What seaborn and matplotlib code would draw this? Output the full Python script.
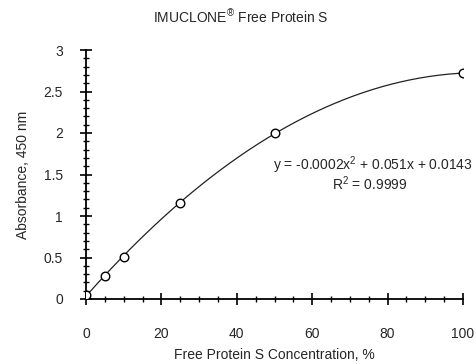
import numpy as np
import matplotlib
matplotlib.use("Agg")
import matplotlib.pyplot as plt
import seaborn as sns
from matplotlib.ticker import MultipleLocator

# standard curve readings
concentration = [0, 5, 10, 25, 50, 100]
absorbance = [0.05, 0.28, 0.51, 1.16, 2.0, 2.72]

equation = "y = -0.0002x$^2$ + 0.051x + 0.0143"
r_squared = "R$^2$ = 0.9999"

sns.set_style("ticks")
plt.rcParams["font.family"] = ["Liberation Sans", "DejaVu Sans"]
plt.rcParams["mathtext.fontset"] = "custom"
plt.rcParams["mathtext.rm"] = "Liberation Sans"

FS = 10

fig = plt.figure(figsize=(4.76, 3.64), dpi=100)
ax = fig.add_axes([86 / 476, 1 - 299 / 364, 377 / 476, 249 / 364])

# quadratic trendline through the readings
coef = np.polyfit(concentration, absorbance, 2)
xs = np.linspace(0, 100, 200)
sns.lineplot(x=xs, y=np.polyval(coef, xs), color="#222222", linewidth=0.9, ax=ax)
sns.scatterplot(
    x=concentration, y=absorbance, marker="o", s=38,
    facecolor="white", edgecolor="black", linewidth=1.0, zorder=3, ax=ax,
)

ax.set_xlim(0, 100)
ax.set_ylim(0, 3)
ax.xaxis.set_major_locator(MultipleLocator(20))
ax.xaxis.set_minor_locator(MultipleLocator(5))
ax.yaxis.set_minor_locator(MultipleLocator(0.1))
ax.set_yticks([0, 0.5, 1, 1.5, 2, 2.5, 3])
ax.set_yticklabels(["0", "0.5", "1", "1.5", "2", "2.5", "3"])
ax.tick_params(which="major", direction="inout", length=9, width=1.2,
               labelsize=FS, color="black")
ax.tick_params(which="minor", direction="inout", length=5, width=1.0,
               color="black")
ax.tick_params(axis="x", which="major", pad=16)
ax.tick_params(axis="y", which="major", pad=12)
for side in ["left", "bottom"]:
    ax.spines[side].set_linewidth(1.3)
    ax.spines[side].set_color("black")
sns.despine(ax=ax)

ax.set_xlabel("Free Protein S Concentration, %", fontsize=FS, labelpad=5)
ax.set_ylabel("Absorbance, 450 nm", fontsize=FS, labelpad=10)

fig.text(0.505, 0.953, "IMUCLONE$^{\u00ae}$ Free Protein S",
         ha="center", va="center", fontsize=FS)
ax.text(273 / 476, 1 - 165 / 364, equation, transform=fig.transFigure,
        ha="left", va="center", fontsize=FS, clip_on=False)
ax.text(370 / 476, 1 - 184 / 364, r_squared, transform=fig.transFigure,
        ha="center", va="center", fontsize=FS)

fig.savefig("out.png", dpi=100)
